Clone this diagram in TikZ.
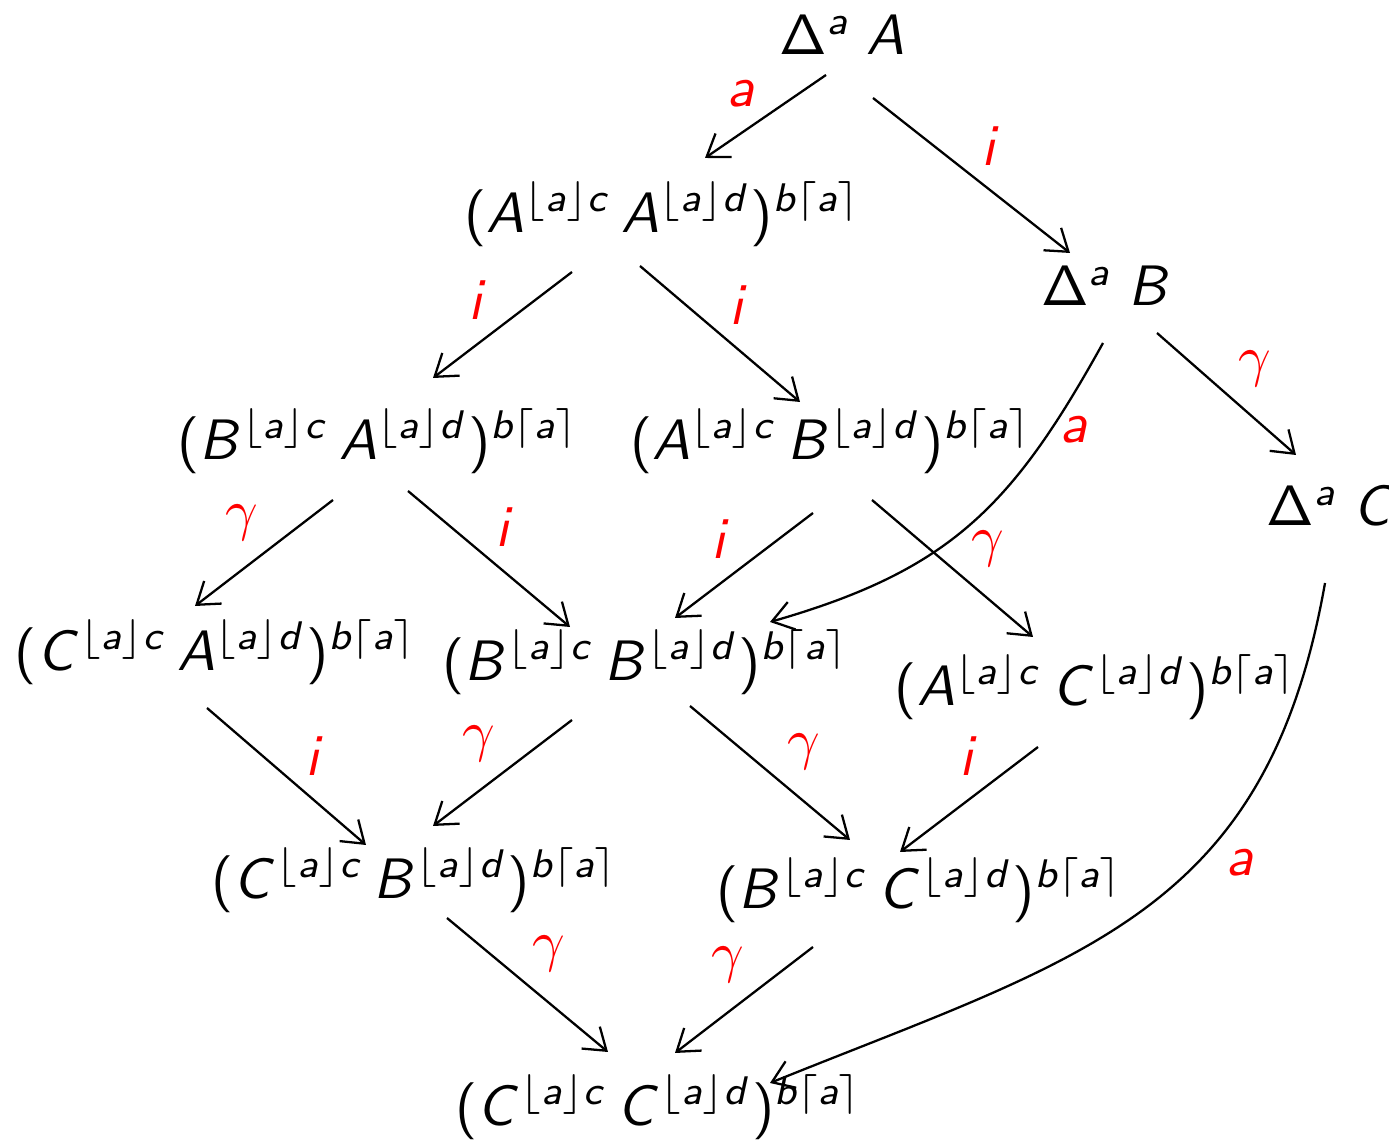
\documentclass[tikz,border=0pt]{standalone}
\usepackage{tikz}
\usetikzlibrary{arrows.meta, calc}

% sans-serif math letters, serif gamma
\SetSymbolFont{operators}{normal}{OT1}{cmss}{m}{n}
\SetSymbolFont{letters}{normal}{OT1}{cmss}{m}{sl}
\DeclareSymbolFont{cmletters}{OML}{cmm}{m}{it}
\DeclareMathSymbol{\gamma}{\mathord}{cmletters}{"0D}

\newcommand{\tpair}[2]{(#1^{\lfloor a\rfloor c}\,#2^{\lfloor a\rfloor d})^{b\lceil a\rceil}}
\newcommand{\dlt}[1]{\Delta^{a}\;#1}

\begin{document}
\begin{tikzpicture}[
  x=0.1754pt, y=-0.1754pt,
  term/.style={inner sep=0pt},
  lbl/.style={text=red, inner sep=1.5pt},
  arrow/.style={-{Straight Barb[length=3.6pt, width=5pt]}},
]
  \useasboundingbox (0,0) rectangle (1389,1141);

  \node[term] (dA) at (842,35)   {$\dlt{A}$};
  \node[term] (aa) at (663,214)  {$\tpair{A}{A}$};
  \node[term] (dB) at (1106,286) {$\dlt{B}$};
  \node[term] (ba) at (378,441)  {$\tpair{B}{A}$};
  \node[term] (ab) at (831,441)  {$\tpair{A}{B}$};
  \node[term] (dC) at (1332,506) {$\dlt{C}$};
  \node[term] (ca) at (216,652)  {$\tpair{C}{A}$};
  \node[term] (bb) at (646,662)  {$\tpair{B}{B}$};
  \node[term] (ac) at (1096,687) {$\tpair{A}{C}$};
  \node[term] (cb) at (415,880)  {$\tpair{C}{B}$};
  \node[term] (bc) at (920,890)  {$\tpair{B}{C}$};
  \node[term] (cc) at (659,1107) {$\tpair{C}{C}$};

  \draw[arrow] ($(dA)+(-16,40)$) -- node[lbl, pos=.5, above left] {$a$} ($(aa)+(42,-56)$);
  \draw[arrow] ($(dA)+(31,63)$) -- node[lbl, pos=.5, above right] {$i$} ($(dB)+(-36,-33)$);
  \draw[arrow] ($(aa)+(-91,58)$) -- node[lbl, pos=.54, above left] {$i$} ($(ba)+(55,-63)$);
  \draw[arrow] ($(aa)+(-23,52)$) -- node[lbl, pos=.5, above right] {$i$} ($(ab)+(-31,-39)$);
  \draw[arrow] ($(dB)+(-3,57)$) to[out=-119, in=16, looseness=1.1]
    node[lbl, pos=.2, right] {$a$} ($(bb)+(124,-40)$);
  \draw[arrow] ($(dB)+(51,47)$) -- node[lbl, pos=.52, above right] {$\gamma$} ($(dC)+(-36,-51)$);
  \draw[arrow] ($(ba)+(-45,59)$) -- node[lbl, pos=.47, above left] {$\gamma$} ($(ca)+(-21,-46)$);
  \draw[arrow] ($(ba)+(30,50)$) -- node[lbl, pos=.48, above right] {$i$} ($(bb)+(-76,-35)$);
  \draw[arrow] ($(ab)+(-18,72)$) -- node[lbl, pos=.53, above left] {$i$} ($(bb)+(29,-44)$);
  \draw[arrow] ($(ab)+(41,59)$) -- node[lbl, pos=.56, above right] {$\gamma$} ($(ac)+(-63,-50)$);
  \draw[arrow] ($(dC)+(-7,77)$) to[out=-100, in=22, looseness=1.15]
    node[lbl, pos=.35, below right] {$a$} ($(cc)+(111,-24)$);
  \draw[arrow] ($(ca)+(-9,56)$) -- node[lbl, pos=.56, above right] {$i$} ($(cb)+(-49,-35)$);
  \draw[arrow] ($(bb)+(-74,58)$) -- node[lbl, pos=.48, above left] {$\gamma$} ($(cb)+(18,-54)$);
  \draw[arrow] ($(bb)+(44,44)$) -- node[lbl, pos=.55, above right] {$\gamma$} ($(bc)+(-70,-50)$);
  \draw[arrow] ($(ac)+(-58,60)$) -- node[lbl, pos=.36, above left] {$i$} ($(bc)+(-20,-38)$);
  \draw[arrow] ($(cb)+(32,38)$) -- node[lbl, pos=.47, above right] {$\gamma$} ($(cc)+(-51,-55)$);
  \draw[arrow] ($(bc)+(-107,57)$) -- node[lbl, pos=.43, above left] {$\gamma$} ($(cc)+(16,-54)$);
\end{tikzpicture}
\end{document}
